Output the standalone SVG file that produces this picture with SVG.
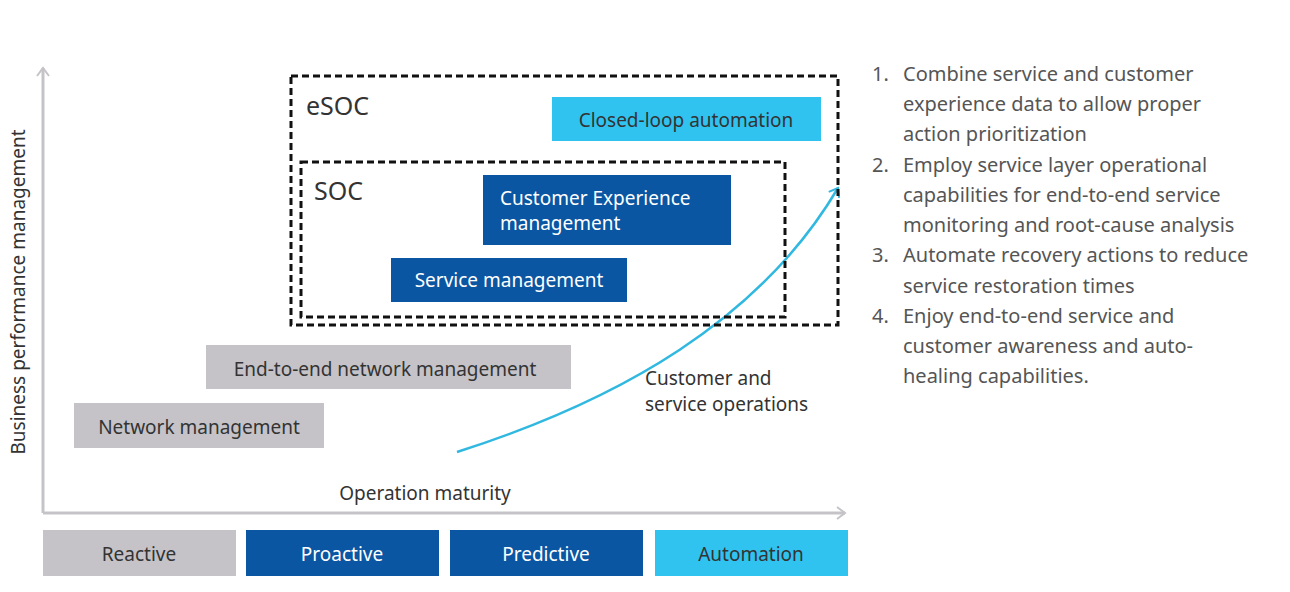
<svg xmlns="http://www.w3.org/2000/svg" width="1290" height="592" viewBox="0 0 1290 592">
<style>
text{font-family:"Noto Sans","Open Sans",sans-serif;}
.g{fill:#c5c3c8}.d{fill:#0a56a2}.l{fill:#30c3f0}
.tk{fill:#333;font-size:19px}.tw{fill:#fff;font-size:19px}
.lst{fill:#555;font-size:20px}
.dash{fill:none;stroke:#111;stroke-width:3;stroke-dasharray:7,4}
</style>
<defs>
<marker id="ag" markerWidth="14" markerHeight="14" refX="10" refY="7" orient="auto" markerUnits="userSpaceOnUse"><path d="M2,1 L10,7 L2,13" fill="none" stroke="#c5c3c8" stroke-width="2"/></marker>
<marker id="ab" markerWidth="14" markerHeight="14" refX="10" refY="7" orient="auto" markerUnits="userSpaceOnUse"><path d="M2,1 L10,7 L2,13" fill="none" stroke="#30b8e0" stroke-width="2"/></marker>
</defs>
<rect width="1290" height="592" fill="#fff"/>
<g id="connectors">
<line x1="43" y1="513" x2="43" y2="68" stroke="#c5c3c8" stroke-width="3" marker-end="url(#ag)"/>
<line x1="43" y1="513" x2="845" y2="513" stroke="#c5c3c8" stroke-width="3" marker-end="url(#ag)"/>
<path d="M457,452 C620,400 760,320 838,188" fill="none" stroke="#30b8e0" stroke-width="2.5" marker-end="url(#ab)"/>
</g>
<g id="esoc"><rect class="dash" x="291" y="76" width="547" height="249"/><text x="306" y="115" fill="#333" font-size="25">eSOC</text></g>
<g id="soc"><rect class="dash" x="301" y="162" width="484" height="155"/><text x="314" y="200" fill="#333" font-size="25">SOC</text></g>
<g id="closed"><rect class="l" x="552" y="97" width="269" height="44"/><text class="tk" x="686" y="127" text-anchor="middle">Closed-loop automation</text></g>
<g id="cem"><rect class="d" x="483" y="175" width="248" height="70"/><text class="tw" x="500" y="205">Customer Experience</text><text class="tw" x="500" y="230">management</text></g>
<g id="sm"><rect class="d" x="391" y="258" width="236" height="44"/><text class="tw" x="509" y="287" text-anchor="middle">Service management</text></g>
<g id="e2e"><rect class="g" x="206" y="345" width="365" height="44"/><text class="tk" x="385" y="376" text-anchor="middle">End-to-end network management</text></g>
<g id="nm"><rect class="g" x="74" y="403" width="250" height="45"/><text class="tk" x="199" y="434" text-anchor="middle">Network management</text></g>
<g id="reactive"><rect class="g" x="43" y="530" width="193" height="46"/><text class="tk" x="139" y="561" text-anchor="middle">Reactive</text></g>
<g id="proactive"><rect class="d" x="246" y="530" width="193" height="46"/><text class="tw" x="342" y="561" text-anchor="middle">Proactive</text></g>
<g id="predictive"><rect class="d" x="450" y="530" width="193" height="46"/><text class="tw" x="546" y="561" text-anchor="middle">Predictive</text></g>
<g id="automation"><rect class="l" x="655" y="530" width="193" height="46"/><text class="tk" x="751" y="561" text-anchor="middle">Automation</text></g>
<text class="tk" x="425" y="500" text-anchor="middle">Operation maturity</text>
<text class="tk" x="645" y="385">Customer and</text>
<text class="tk" x="645" y="411">service operations</text>
<text class="tk" transform="translate(25,292) rotate(-90)" text-anchor="middle">Business performance management</text>
<g class="lst">
<text x="872" y="81">1.</text><text x="903" y="81">Combine service and customer</text>
<text x="903" y="111">experience data to allow proper</text>
<text x="903" y="141">action prioritization</text>
<text x="872" y="172">2.</text><text x="903" y="172">Employ service layer operational</text>
<text x="903" y="202">capabilities for end-to-end service</text>
<text x="903" y="232">monitoring and root-cause analysis</text>
<text x="872" y="262">3.</text><text x="903" y="262">Automate recovery actions to reduce</text>
<text x="903" y="293">service restoration times</text>
<text x="872" y="323">4.</text><text x="903" y="323">Enjoy end-to-end service and</text>
<text x="903" y="353">customer awareness and auto-</text>
<text x="903" y="383">healing capabilities.</text>
</g>
</svg>
